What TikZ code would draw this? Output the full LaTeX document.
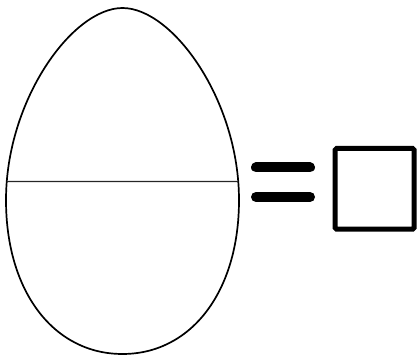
\documentclass[tikz,border=0pt]{standalone}
\usepackage{tikz}
\usetikzlibrary{intersections}

\begin{document}
\begin{tikzpicture}[
  x=1pt, y=-1pt,
  eggline/.style={draw, line width=1.7pt},
  cutline/.style={draw, line width=1.1pt, black!85},
  bar/.style={line width=10pt, line cap=round},
  answerbox/.style={draw, line width=5pt, rounded corners=1.5pt},
]
  \useasboundingbox (0,0) rectangle (418,355);

  % egg
  \path[eggline, name path=eggpath] (122.5,8)
    .. controls (72.5,8) and (6,100) .. (6,200)
    .. controls (6,292) and (54,354) .. (122.5,354)
    .. controls (191,354) and (239,292) .. (239,200)
    .. controls (239,100) and (172.5,8) .. (122.5,8) -- cycle;
  \path[name path=cutpath] (0,181.5) -- (250,181.5);
  \draw[cutline, name intersections={of=eggpath and cutpath}]
    (intersection-1) -- (intersection-2);

  % equals sign
  \coordinate (eqA) at (256,167.5);
  \coordinate (eqB) at (310,167.5);
  \coordinate (eqC) at (256,197);
  \coordinate (eqD) at (310,197);
  \draw[bar] (eqA) -- (eqB);
  \draw[bar] (eqC) -- (eqD);

  % empty box
  \draw[answerbox] (335.2,148.5) rectangle (414.2,229.2);
\end{tikzpicture}
\end{document}
